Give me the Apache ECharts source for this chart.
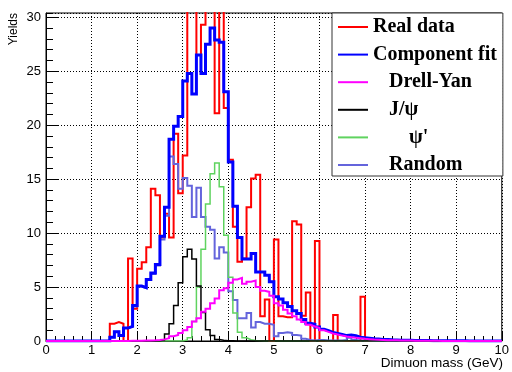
<!DOCTYPE html>
<html>
<head>
<meta charset="utf-8">
<script src="https://cdn.jsdelivr.net/npm/echarts@6/dist/echarts.min.js"></script>
<style>
  html, body { margin: 0; padding: 0; background: #fff; }
  #chart { width: 512px; height: 372px; }
</style>
</head>
<body>
<div id="chart"></div>
<script>
// Dimuon mass histograms: 100 bins of 0.1 GeV between 0 and 10 GeV.
const binLow = 0;
const binWidth = 0.1;

// Bin contents, one row per GeV (10 bins each).
const realData = [
  0, 0, 0, 0, 0, 0, 0, 0, 0, 0,
  0, 0, 0, 0, 1.6, 1.75, 1.6, 0, 7.65, 3.0,
  6.7, 7.3, 8.7, 14.1, 13.5, 9.6, 11.8, 9.6, 19.2, 13.7,
  17.2, 33, 32, 26.5, 29.3, 34, 33, 21.1, 33.5, 21.6,
  16.8, 10.6, 7.35, 7.65, 12.4, 15.06, 15.4, 2.3, 3.85, 0,
  9.4, 2.3, 2.2, 2.2, 11.1, 10.8, 2.35, 4.5, 0, 9.26,
  0, 0, 0, 2.4, 0, 0, 0, 0, 0, 4.1,
  0, 0, 0, 0, 0, 0, 0, 0, 0, 0,
  0, 0, 0, 0, 0, 0, 0, 0, 0, 0,
  0, 0, 0, 0, 0, 0, 0, 0, 0, 0
];

const componentFit = [
  0, 0, 0, 0, 0, 0, 0, 0, 0, 0,
  0, 0, 0, 0, 0.35, 0.85, 0.5, 1.2, 1.35, 3.3,
  5.1, 4.95, 5.7, 6.3, 7.1, 9.7, 12.4, 18.7, 19.9, 20.8,
  24.1, 24.8, 22.9, 26.5, 24.8, 27.5, 29.0, 27.9, 27.7, 23.1,
  16.6, 12.5, 9.6, 7.6, 7.6, 8.1, 6.4, 6.4, 6.1, 5.5,
  4.1, 3.9, 3.55, 3.2, 2.8, 2.55, 2.0, 1.65, 1.55, 1.3,
  1.1, 0.95, 0.8, 0.7, 0.6, 0.5, 0.55, 0.5, 0.35, 0.3,
  0.25, 0.2, 0.18, 0.15, 0.13, 0.11, 0.1, 0.08, 0.07, 0.06,
  0.05, 0.05, 0.04, 0.04, 0.03, 0.03, 0.03, 0.02, 0.02, 0.02,
  0.02, 0.02, 0.01, 0.01, 0.01, 0.01, 0.01, 0.01, 0.01, 0.01
];

const drellYan = [
  0, 0, 0, 0, 0, 0, 0, 0, 0, 0,
  0, 0, 0, 0, 0, 0.01, 0.01, 0.01, 0.02, 0.02,
  0.03, 0.04, 0.05, 0.07, 0.1, 0.15, 0.25, 0.45, 0.55, 0.75,
  1.0, 1.3, 1.8, 2.1, 2.7, 3.0, 3.5, 3.95, 4.7, 4.9,
  5.4, 5.7, 5.85, 5.3, 5.5, 5.6, 5.0, 4.65, 4.55, 4.2,
  3.5, 3.3, 2.9, 2.55, 2.3, 2.0, 1.75, 1.5, 1.35, 1.2,
  1.0, 0.85, 0.7, 0.6, 0.5, 0.42, 0.35, 0.3, 0.25, 0.2,
  0.17, 0.14, 0.12, 0.1, 0.08, 0.07, 0.06, 0.05, 0.04, 0.04,
  0.03, 0.03, 0.03, 0.02, 0.02, 0.02, 0.01, 0.01, 0.01, 0.01,
  0.01, 0.01, 0.01, 0.01, 0.01, 0.01, 0.01, 0.01, 0.01, 0.01
];

const jpsi = [
  0, 0, 0, 0, 0, 0, 0, 0, 0, 0,
  0, 0, 0, 0, 0, 0, 0, 0, 0, 0,
  0, 0, 0, 0, 0.03, 0.1, 0.65, 1.6, 3.3, 5.4,
  7.8, 8.5, 7.6, 5.1, 2.65, 1.05, 0.5, 0.15, 0.08, 0.03,
  0.02, 0, 0, 0, 0, 0, 0, 0, 0, 0,
  0, 0, 0, 0, 0, 0, 0, 0, 0, 0,
  0, 0, 0, 0, 0, 0, 0, 0, 0, 0,
  0, 0, 0, 0, 0, 0, 0, 0, 0, 0,
  0, 0, 0, 0, 0, 0, 0, 0, 0, 0,
  0, 0, 0, 0, 0, 0, 0, 0, 0, 0
];

const psiPrime = [
  0, 0, 0, 0, 0, 0, 0, 0, 0, 0,
  0, 0, 0, 0, 0, 0, 0, 0, 0, 0,
  0, 0, 0, 0, 0, 0, 0, 0, 0, 0,
  0.1, 0.3, 1.8, 5.0, 8.5, 12.7, 15.5, 16.5, 14.3, 9.8,
  5.9, 2.6, 0.8, 0.3, 0.12, 0.05, 0.02, 0, 0, 0,
  0, 0, 0, 0, 0, 0, 0, 0, 0, 0,
  0, 0, 0, 0, 0, 0, 0, 0, 0, 0,
  0, 0, 0, 0, 0, 0, 0, 0, 0, 0,
  0, 0, 0, 0, 0, 0, 0, 0, 0, 0,
  0, 0, 0, 0, 0, 0, 0, 0, 0, 0
];

const randomBkg = [
  0, 0, 0, 0, 0, 0, 0, 0, 0, 0,
  0, 0, 0, 0, 0.35, 0.85, 0.5, 1.2, 1.35, 3.2,
  5.05, 4.9, 5.65, 6.2, 7.0, 9.4, 11.6, 17.1, 16.4, 14.1,
  15.1, 14.4, 11.5, 14.2, 11.5, 10.6, 10.3, 7.65, 8.7, 8.2,
  4.6, 3.8, 2.1, 2.1, 2.6, 1.25, 1.75, 1.6, 1.6, 1.5,
  0.45, 0.75, 0.8, 0.75, 0.55, 0.5, 0.2, 0.1, 0.05, 0.1,
  0.1, 0.05, 0.05, 0.05, 0.05, 0.1, 0.3, 0.1, 0.05, 0.05,
  0.05, 0, 0, 0, 0, 0, 0, 0, 0, 0,
  0, 0, 0, 0, 0, 0, 0, 0, 0, 0,
  0, 0, 0, 0, 0, 0, 0, 0, 0, 0
];

// Axis ranges and tick steps
const xRange = [0, 10];
const yRange = [0, 30.4];
const xTickStep = 1;
const yTickStep = 5;

// Turn bin contents into [lowEdge, value] points, closed at the last upper edge,
// so a step line traces the histogram outline.
function histPoints(values) {
  const pts = values.map((v, i) => [Number((binLow + i * binWidth).toFixed(2)), v]);
  pts.push([Number((binLow + values.length * binWidth).toFixed(2)), values[values.length - 1]]);
  return pts;
}

function hist(name, values, color, width) {
  return {
    name: name,
    type: 'line',
    step: 'end',
    data: histPoints(values),
    symbol: 'none',
    clip: true,
    lineStyle: { color: color, width: width, join: 'miter' },
    itemStyle: { color: color },
    emphasis: { disabled: true }
  };
}

const legendPad = { 'Drell-Yan': 'ind', 'J/ψ': 'ind', 'Random': 'ind', "ψ'": 'ind2' };

const chart = echarts.init(document.getElementById('chart'), null, { renderer: 'canvas' });

const labelFont = { fontFamily: 'Liberation Sans', fontSize: 13, color: '#000' };
const legendFont = { fontFamily: 'Liberation Serif', fontSize: 20, fontWeight: 'bold', color: '#000', lineHeight: 20 };

chart.setOption({
  animation: false,
  backgroundColor: '#fff',
  grid: {
    left: 46, right: 9, top: 13, bottom: 31,
    show: true, borderColor: '#000', borderWidth: 1, backgroundColor: 'transparent'
  },
  xAxis: {
    type: 'value',
    min: xRange[0], max: xRange[1], interval: xTickStep,
    axisLine: { show: true, lineStyle: { color: '#000', width: 1 } },
    axisTick: { show: true, inside: true, length: 10, lineStyle: { color: '#000' } },
    minorTick: { show: true, splitNumber: 5, length: 5, lineStyle: { color: '#000' } },
    axisLabel: Object.assign({ margin: 3 }, labelFont),
    splitLine: { show: true, lineStyle: { color: '#000', type: [1, 2], width: 1 } }
  },
  yAxis: [
    {
      type: 'value',
      min: yRange[0], max: yRange[1], interval: yTickStep,
      axisLine: { show: true, lineStyle: { color: '#000', width: 1 } },
      axisTick: { show: true, inside: true, length: 13, lineStyle: { color: '#000' } },
      axisLabel: Object.assign({ margin: 5, showMaxLabel: false }, labelFont),
      splitLine: { show: true, lineStyle: { color: '#000', type: [1, 2], width: 1 } }
    },
    {
      type: 'value',
      position: 'left',
      min: yRange[0], max: yRange[1], interval: 1,
      axisLine: { show: false },
      axisTick: { show: true, inside: true, length: 7, lineStyle: { color: '#000' } },
      axisLabel: { show: false },
      splitLine: { show: false }
    }
  ],
  legend: {
    orient: 'vertical',
    left: 332, top: 13,
    padding: [4, 6, 1, 6],
    itemGap: 7.6,
    itemWidth: 30,
    itemHeight: 2,
    icon: 'rect',
    backgroundColor: '#fff',
    borderColor: '#333',
    borderWidth: 1,
    borderRadius: 0,
    selectedMode: false,
    data: ['Real data', 'Component fit', 'Drell-Yan', 'J/ψ', "ψ'", 'Random'],
    formatter: function (name) {
      const key = legendPad[name] || 'plain';
      return '{' + key + '|' + name + '}';
    },
    textStyle: Object.assign({}, legendFont, {
      rich: {
        plain: Object.assign({}, legendFont),
        ind: Object.assign({ padding: [0, 0, 0, 16] }, legendFont),
        ind2: Object.assign({ padding: [0, 0, 0, 36] }, legendFont)
      }
    })
  },
  series: [
    hist('Real data', realData, '#ff0000', 2),
    hist('Random', randomBkg, '#6464dc', 2),
    hist('Component fit', componentFit, '#0000ff', 3),
    hist("ψ'", psiPrime, '#5fd35f', 1.5),
    hist('J/ψ', jpsi, '#000000', 1.5),
    hist('Drell-Yan', drellYan, '#ff00ff', 2)
  ],
  graphic: [
    {
      type: 'text', x: 13.5, y: 13, rotation: Math.PI / 2,
      style: {
        text: 'Yields', fill: '#000',
        font: '12px "Liberation Sans"',
        align: 'right', verticalAlign: 'middle',
        textAlign: 'right', textVerticalAlign: 'middle'
      }
    },
    {
      type: 'text', x: 503, y: 363,
      style: {
        text: 'Dimuon mass (GeV)', fill: '#000',
        font: '13.5px "Liberation Sans"',
        align: 'right', verticalAlign: 'middle',
        textAlign: 'right', textVerticalAlign: 'middle'
      }
    }
  ]
});
</script>
</body>
</html>
